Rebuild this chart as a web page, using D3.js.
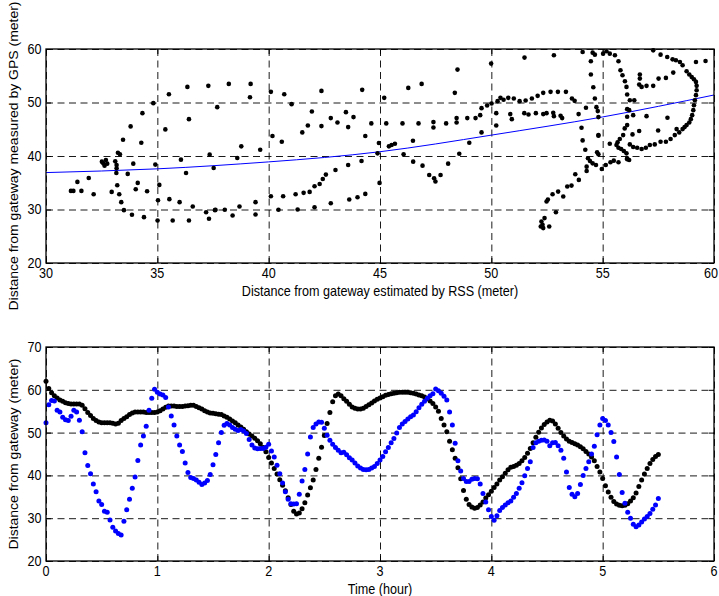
<!DOCTYPE html>
<html><head><meta charset="utf-8">
<script src="https://cdn.jsdelivr.net/npm/d3@7"></script>
<style>
body{margin:0;background:#fff}
svg{display:block}
text{font-family:"Liberation Sans",Arial,sans-serif}
</style></head><body>
<svg id="c" width="719" height="596"></svg>
<script>
// ---------- Top panel: scatter of RSS-estimated vs GPS-measured distance ----------
const rssEstimate = [
31.12,31.23,31.41,31.59,31.92,32.14,32.51,32.57,32.69,32.63,32.75,32.95,33.11,33.17,33.17,33.2,33.16,33.23,33.32,33.29,
33.38,33.46,33.5,33.67,33.8,33.92,33.86,34.03,34.12,34.28,34.33,34.4,34.54,34.82,34.91,35.03,35.01,35.09,35.36,35.52,
35.54,35.69,36.0,36.06,36.29,36.35,36.42,36.42,36.59,37.19,37.29,37.32,37.35,37.53,37.59,
37.69,38.21,39.19,39.16,38.59,38.77,39.62,37.61,38.03,38.38,38.69,39.41,39.41,40.1,40.7,41.03,40.17,40.59,40.1,40.65,
40.44,41.21,41.3,41.57,41.84,42.06,42.29,42.43,42.57,43.0,42.06,42.79,43.57,43.62,43.99,44.17,44.34,42.37,44.2,41.51,
41.76,41.94,42.37,42.79,43.09,43.47,43.57,43.81,44.34,44.61,44.89,44.95,44.98,
45.19,45.28,46.01,46.73,47.4,47.4,47.97,48.44,48.44,48.92,49.29,49.5,49.56,49.81,50.01,50.22,50.22,50.28,50.41,50.55,
50.76,50.85,50.92,51.01,51.27,51.48,51.54,51.67,51.82,52.0,52.08,52.33,52.33,46.27,46.87,48.48,48.36,49.99,51.49,45.4,
45.52,45.67,46.48,46.06,46.49,46.91,47.21,47.43,47.49,47.72,48.06,48.56,49.01,49.56,
52.81,54.10,54.47,54.47,54.55,54.65,55.02,55.17,55.32,55.55,55.71,55.80,55.89,56.00,56.07,56.10,56.22,56.42,56.10,56.19,
56.10,56.37,56.67,56.67,56.64,56.75,56.97,57.27,57.51,57.84,58.17,57.27,57.60,57.90,58.14,58.29,58.47,58.59,58.77,58.89,
59.00,59.10,59.19,59.22,59.22,59.19,59.14,59.10,59.07,59.02,58.96,58.89,58.77,58.68,58.59,58.44,58.24,58.05,57.84,57.60,
57.34,57.12,56.94,56.75,56.55,56.37,56.22,59.19,59.62,56.97,57.91,57.49,58.32,56.64,56.34,55.32,54.81,55.92,55.77,55.67,
55.62,55.71,55.83,55.95,56.07,56.10,56.19,55.99,56.10,54.58,54.65,54.72,54.78,54.81,54.05,54.10,54.22,54.81,54.75,54.81,
54.34,54.43,54.55,54.28,54.28,54.70,54.96,55.14,55.35,55.50,55.71,56.10,52.66,52.99,53.35,53.62,53.74,52.48,52.78,52.81,
53.11,53.18,53.92,54.25,52.22,52.30,52.33,52.25,52.39,52.60,52.48,52.54,52.90,52.75,53.00,53.23,53.41,53.60,53.77,53.93
];
const gpsMeasured = [
33.48,33.48,35.16,33.48,35.9,32.86,38.94,38.63,39.25,38.2,38.57,33.29,39.0,38.32,37.7,34.53,36.83,40.62,40.31,32.86,
31.37,43.04,29.88,36.65,45.53,38.57,29.01,33.79,34.97,42.48,48.01,28.57,33.42,49.88,38.39,31.74,27.95,34.6,44.97,51.55,
31.93,27.95,31.37,39.32,36.83,52.92,46.89,27.95,30.56,29.5,53.11,28.26,40.25,37.76,29.88,
49.13,53.48,53.48,50.99,39.63,41.8,41.18,29.94,29.94,28.88,30.56,31.37,29.07,51.99,51.55,49.69,43.73,42.67,32.48,32.48,
29.94,32.86,30.0,33.11,33.29,34.35,34.78,35.71,36.52,37.39,30.43,31.18,38.32,31.86,32.3,39.07,32.92,52.17,52.36,44.41,
45.71,48.32,45.59,47.08,46.27,48.2,45.4,47.27,43.73,46.09,40.5,42.42,34.97,
50.87,46.09,46.09,46.09,46.34,45.34,46.09,46.27,47.08,47.08,47.08,47.64,48.94,49.44,49.81,48.01,45.71,50.25,50.87,50.5,
50.87,47.83,46.89,50.75,50.25,48.01,50.37,47.76,50.75,48.01,51.24,47.83,51.8,52.73,53.48,56.15,51.8,57.27,58.39,41.8,
42.05,42.3,42.86,40.31,38.94,38.2,36.46,35.84,35.22,36.46,38.57,40.43,42.48,44.41,
58.82,59.44,57.70,55.22,59.32,58.94,59.13,59.57,59.13,58.82,57.70,56.02,55.09,53.98,52.92,51.49,50.43,50.43,48.76,48.57,
47.33,47.64,55.22,54.47,53.35,52.92,53.11,53.11,54.47,54.60,55.59,59.75,58.94,58.51,58.07,57.89,57.58,56.96,55.84,55.22,
54.78,54.35,53.85,53.11,52.30,51.37,50.43,49.50,48.57,47.64,46.89,46.27,45.78,45.40,45.03,44.41,43.91,43.17,42.67,42.67,
42.17,42.05,41.55,41.30,41.55,41.68,42.17,57.58,57.76,47.45,47.14,44.78,45.03,44.66,44.04,42.30,43.79,43.91,43.17,42.55,
42.05,41.55,41.30,40.93,40.50,39.57,39.25,45.16,45.78,52.86,50.75,49.13,48.39,47.27,45.28,42.92,41.18,43.91,40.68,40.31,
39.57,39.07,38.63,38.01,37.20,38.32,37.58,38.32,38.82,39.13,38.82,39.38,51.99,51.99,51.99,50.75,50.31,48.01,48.07,47.45,
47.52,47.08,47.83,49.01,26.83,27.14,26.52,27.76,28.39,26.83,31.49,31.86,29.50,32.86,33.35,32.42,34.29,34.47,36.58,35.53
];
// fitted curve
const fitRss = [30, 35, 40, 45, 50, 55, 60];
const fitGps = [36.9, 37.6, 38.9, 40.8, 43.9, 47.3, 51.4];
const topXTicks = [30, 35, 40, 45, 50, 55, 60];
const topYTicks = [20, 30, 40, 50, 60];

// ---------- Bottom panel: distance vs time ----------
const sampleStepHours = 0.025;
const gpsDistance = [ // black
62.0,60.3,59.3,58.6,58.1,57.6,57.3,57.0,56.8,56.7,
56.7,56.7,56.7,56.4,55.6,54.7,54.0,53.3,52.8,52.5,
52.3,52.3,52.3,52.3,52.2,52.0,52.2,52.8,53.3,53.7,
54.2,54.6,54.8,54.8,54.8,54.8,54.7,54.7,54.7,54.7,
54.8,55.1,55.5,55.9,56.2,56.2,56.2,56.1,56.1,56.1,
56.2,56.3,56.4,56.4,56.1,55.8,55.5,55.1,54.8,54.6,
54.5,54.4,54.3,54.2,53.9,53.6,53.2,52.7,52.3,51.8,
51.3,50.8,50.2,49.7,49.2,48.7,48.1,47.4,46.5,45.5,
44.2,42.9,41.6,40.3,39.0,37.7,36.4,34.8,33.2,31.6,
31.0,31.2,32.2,33.6,35.4,37.1,38.9,41.4,44.0,46.6,
49.3,52.1,54.7,57.2,58.6,59.0,58.6,57.9,57.3,56.6,
56.0,55.7,55.5,55.5,55.7,56.1,56.5,56.9,57.4,57.8,
58.1,58.4,58.7,58.9,59.1,59.2,59.3,59.4,59.4,59.4,
59.4,59.3,59.2,59.0,58.8,58.6,58.3,57.9,57.4,56.8,
56.0,55.0,53.3,51.8,50.2,48.0,46.0,44.0,41.8,39.2,
36.5,34.4,33.2,32.6,32.3,32.5,33.1,33.8,34.7,35.5,
36.3,37.2,38.0,38.9,39.7,40.5,41.3,41.9,42.1,42.4,
42.8,43.4,44.2,45.2,46.3,47.6,48.9,50.1,51.1,51.9,
52.5,52.9,52.7,52.0,51.0,50.0,49.2,48.5,48.0,47.7,
47.4,47.1,46.7,46.2,45.6,45.0,44.3,43.4,42.1,40.8,
39.3,37.6,36.1,34.9,33.9,33.3,33.0,32.9,33.0,33.4,
34.0,34.8,35.9,37.4,38.9,40.3,41.6,42.8,43.7,44.4,
44.9
];
const rssDistance = [ // blue
52.3,56.5,57.5,57.4,55.2,54.8,53.6,53.0,52.8,53.8,
55.2,54.8,52.9,50.2,45.3,42.3,40.4,38.0,36.2,34.0,
33.2,31.6,31.4,29.6,27.9,27.0,26.4,26.1,29.3,32.0,
34.4,37.0,39.6,43.5,47.1,49.2,51.5,55.2,58.0,60.1,
59.4,59.0,58.8,58.2,56.0,53.9,51.8,49.2,47.1,45.6,
42.9,40.7,39.5,39.3,38.9,38.4,37.9,38.2,38.8,40.2,
42.5,44.9,47.6,50.0,51.7,52.1,51.8,51.2,50.8,50.5,
50.7,50.4,49.8,48.4,47.1,46.4,46.2,46.3,46.3,46.6,
47.3,45.7,44.3,42.4,40.4,38.2,36.2,34.4,33.4,33.3,
33.4,35.6,38.7,41.4,45.0,49.0,51.2,52.0,52.5,52.4,
51.0,49.4,48.2,47.3,46.5,45.9,45.3,45.4,44.8,44.1,
43.6,42.9,42.2,41.7,41.4,41.3,41.4,41.7,42.1,42.8,
43.6,44.4,45.5,46.5,47.6,48.6,49.9,51.2,52.0,52.6,
53.2,53.7,54.1,54.9,55.8,56.6,57.3,58.0,58.6,59.1,
60.2,59.8,59.2,58.5,57.6,54.8,51.8,47.5,43.4,41.0,
39.3,38.6,38.6,39.1,39.3,39.2,38.0,35.8,33.8,32.0,
30.4,29.5,30.6,31.8,32.5,33.1,33.6,34.0,34.9,35.8,
37.0,38.3,39.9,41.6,43.2,46.5,47.6,48.0,48.2,48.3,
48.0,46.9,47.6,47.7,46.9,45.9,44.0,40.8,37.2,35.6,
35.0,35.8,37.9,40.0,41.6,43.2,45.0,46.8,49.5,51.8,
53.3,52.8,51.8,50.0,47.9,44.3,40.2,36.0,33.5,31.4,
30.0,28.6,28.0,28.4,29.1,29.8,30.4,31.1,32.1,33.1,
34.6
];
const botXTicks = [0, 1, 2, 3, 4, 5, 6];
const botYTicks = [20, 30, 40, 50, 60, 70];

// ---------- drawing ----------
const svg = d3.select("#c");
const W = 719;
const L = 46, R = 714;
const FS = 12.6, SY = 1.11;

function txt(str, x, y, anchor, rot) {
  return svg.append("text").text(str)
    .attr("transform", `translate(${x},${y}) scale(1,${SY})` + (rot ? " rotate(-90)" : ""))
    .attr("text-anchor", anchor).attr("dy", "0.35em")
    .attr("font-size", FS).attr("fill", "#000");
}

function panel(top, bottom, xDom, yDom, xTicks, yTicks) {
  const x = d3.scaleLinear().domain(xDom).range([L, R]);
  const y = d3.scaleLinear().domain(yDom).range([bottom, top]);
  const g = svg.append("g");
  g.append("g").attr("transform", `translate(0,${bottom})`)
    .call(d3.axisBottom(x).tickValues(xTicks).tickSize(-(bottom - top)).tickFormat(""))
    .call(s => s.select(".domain").remove())
    .selectAll("line").attr("stroke", "#000").attr("stroke-width", 0.9).attr("stroke-dasharray", "7,4.5");
  g.append("g").attr("transform", `translate(${L},0)`)
    .call(d3.axisLeft(y).tickValues(yTicks).tickSize(-(R - L)).tickFormat(""))
    .call(s => s.select(".domain").remove())
    .selectAll("line").attr("stroke", "#000").attr("stroke-width", 0.9).attr("stroke-dasharray", "7,4.5");
  return {x, y, g};
}

function frame(p, top, bottom, xTicks, yTicks) {
  const {x, y} = p;
  const fg = svg.append("g");
  const style = s => {
    s.select(".domain").remove();
    s.selectAll("line").attr("stroke", "#000").attr("stroke-width", 1);
  };
  fg.append("g").attr("transform", `translate(0,${bottom})`)
    .call(d3.axisBottom(x).tickValues(xTicks).tickSize(-5).tickFormat("")).call(style);
  fg.append("g").attr("transform", `translate(0,${top})`)
    .call(d3.axisTop(x).tickValues(xTicks).tickSize(-5).tickFormat("")).call(style);
  fg.append("g").attr("transform", `translate(${L},0)`)
    .call(d3.axisLeft(y).tickValues(yTicks).tickSize(-5).tickFormat("")).call(style);
  fg.append("g").attr("transform", `translate(${R},0)`)
    .call(d3.axisRight(y).tickValues(yTicks).tickSize(-5).tickFormat("")).call(style);
  fg.append("rect").attr("x", L).attr("y", top).attr("width", R - L).attr("height", bottom - top)
    .attr("fill", "none").attr("stroke", "#000").attr("stroke-width", 1.3);
  xTicks.forEach(t => {
    const el = txt(String(t), x(t), bottom + 10, "middle");
    const w = el.node().getComputedTextLength();
    if (x(t) + w / 2 > W - 1) el.attr("text-anchor", "end")
      .attr("transform", `translate(${W - 1},${bottom + 10}) scale(1,${SY})`);
  });
  yTicks.forEach(t => txt(String(t), L - 4.5, y(t), "end"));
}

// top panel
const T1 = 49, B1 = 263;
const p1 = panel(T1, B1, [30, 60], [20, 60], topXTicks, topYTicks);
const fitPts = fitRss.map((v, i) => [v, fitGps[i]]);
p1.g.append("path").datum(fitPts)
  .attr("d", d3.line().x(d => p1.x(d[0])).y(d => p1.y(d[1])).curve(d3.curveNatural))
  .attr("fill", "none").attr("stroke", "#0000ff").attr("stroke-width", 1);
p1.g.selectAll("circle.s").data(rssEstimate.map((v, i) => [v, gpsMeasured[i]])).join("circle")
  .attr("class", "s").attr("cx", d => p1.x(d[0])).attr("cy", d => p1.y(d[1])).attr("r", 2.3).attr("fill", "#000");
frame(p1, T1, B1, topXTicks, topYTicks);

// bottom panel
const T2 = 347, B2 = 561;
const p2 = panel(T2, B2, [0, 6], [20, 70], botXTicks, botYTicks);
p2.g.selectAll("circle.k").data(gpsDistance).join("circle")
  .attr("class", "k").attr("cx", (d, i) => p2.x(i * sampleStepHours)).attr("cy", d => p2.y(d)).attr("r", 2.5).attr("fill", "#000");
p2.g.selectAll("circle.b").data(rssDistance).join("circle")
  .attr("class", "b").attr("cx", (d, i) => p2.x(i * sampleStepHours)).attr("cy", d => p2.y(d)).attr("r", 2.5).attr("fill", "#0000ff");
frame(p2, T2, B2, botXTicks, botYTicks);

// axis titles
txt("Distance from gateway estimated by RSS (meter)", 380, 291, "middle", false);
txt("Distance from gateway measured by GPS (meter)", 13.5, 156, "middle", true);
txt("Time (hour)", 380, 589, "middle", false);
txt("Distance from gateway  (meter)", 13.5, 454, "middle", true);
</script>
</body></html>
